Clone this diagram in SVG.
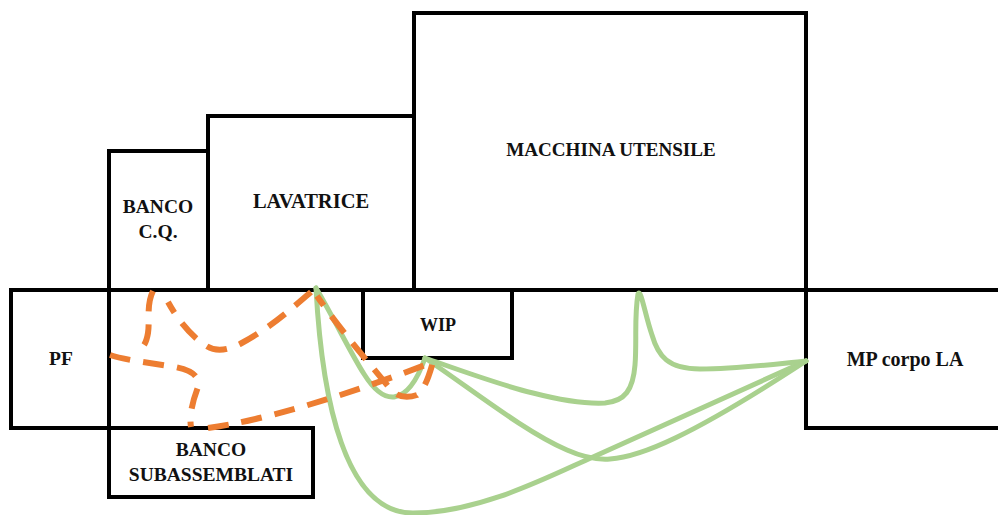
<svg xmlns="http://www.w3.org/2000/svg" width="998" height="515" viewBox="0 0 998 515">
<style>
.b{fill:none;stroke:#000;stroke-width:4}
.g{fill:none;stroke:#a9d18e;stroke-width:5;stroke-linecap:round;stroke-linejoin:round}
.o{fill:none;stroke:#ed7d31;stroke-width:6;stroke-dasharray:21 13}
text{font-family:"Liberation Serif",serif;font-weight:bold;font-size:19.5px;fill:#111;text-anchor:middle}
</style>
<rect width="998" height="515" fill="#fff"/>
<g id="macchina"><rect class="b" x="414" y="13" width="392" height="277"/><text x="611" y="156" style="font-size:19.1px">MACCHINA UTENSILE</text></g>
<g id="lavatrice"><rect class="b" x="208" y="116" width="206" height="174"/><text x="311" y="208" style="font-size:20.5px">LAVATRICE</text></g>
<g id="banco-cq"><rect class="b" x="109" y="151" width="99" height="139"/><text x="158" y="213">BANCO</text><text x="158" y="238">C.Q.</text></g>
<g id="pf"><rect class="b" x="11" y="290" width="98" height="138"/><text x="61" y="365">PF</text></g>
<g id="wip"><rect class="b" x="363" y="290" width="149" height="68"/><text x="438" y="331" style="font-size:18px">WIP</text></g>
<g id="banco-sub"><rect class="b" x="109" y="428" width="204" height="69"/><text x="211" y="456">BANCO</text><text x="211" y="481">SUBASSEMBLATI</text></g>
<g id="mp"><path class="b" d="M1000 290H806V428H1000"/><text x="905" y="366" style="font-size:20px">MP corpo LA</text></g>
<path class="b" d="M109 290H363M512 290H806"/>
<g id="connectors">
<path class="g" d="M316 288C322 400 345 513 413 513C480 513 550 476 593 457L806 361"/>
<path class="g" d="M316 288C335 320 350 352 364 374C374 390 384 398 394 397C408 395 418 378 425 358C465 372 500 385 533 393C560 400 585 404 605 403C625 401 633 390 635 365C637 340 634 318 638 294C641 288 645 315 652 335C658 356 668 369 700 369C740 369 775 364 806 361"/>
<path class="g" d="M425 358C470 388 525 432 567 450C585 458 597 460 610 459C640 457 690 437 806 361"/>
<path class="o" d="M153 291C146 305 150 320 148 333C146 345 142 349 136 351"/>
<path class="o" d="M110 355C125 360 150 363 175 367C190 370 200 375 198 387C193 400 189 415 191 427"/>
<path class="o" d="M208 428C260 421 340 398 433 362C430 372 426 388 417 395C408 398 400 398 392 391C380 376 340 330 317 296"/>
<path class="o" d="M311 292C290 310 270 328 240 344C225 351 215 352 205 345C190 335 178 320 168 302"/>
</g>
</svg>
